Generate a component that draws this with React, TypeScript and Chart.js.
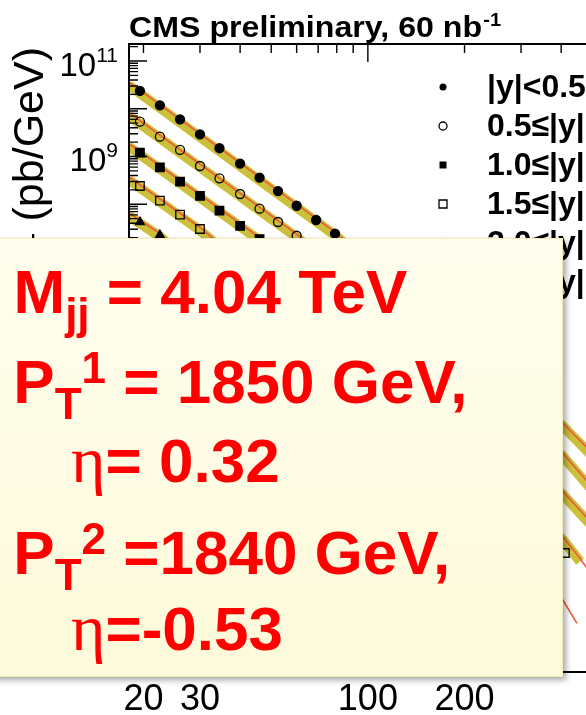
import React, { useEffect, useRef } from 'react';
import { Chart, registerables } from 'chart.js';

Chart.register(...registerables);

// ---- axis ranges ----
const X_MIN = 18.03;
const X_MAX = 610;
const Y_MIN = 0.016;
const Y_MAX = 2.27e11;

// ---- labels ----
const titleMain = 'CMS preliminary, 60 nb';
const titleSup = '-1';
const xTickLabels = [20, 30, 100, 200];
const yTickExps = [11, 9, 7, 5, 3, 1];
const binLabels = ['|y|<0.5', '0.5≤|y|<1.0', '1.0≤|y|<1.5', '1.5≤|y|<2.0', '2.0≤|y|<2.5', '2.5≤|y|<3.0'];
const markerStyles = ['circle', 'circle', 'rect', 'rect', 'triangle', 'triangle'];
const markerFilled = [true, false, true, false, true, false];

// ---- measured points (pT in GeV, cross section pb/GeV) ----
const ptX1 = [19.5, 22.5, 26, 30, 34.5, 40, 46, 52.5, 60, 69, 79];
const ptY1 = [2.36e10, 1.18e10, 6.0e9, 2.92e9, 1.49e9, 7.07e8, 3.6e8, 1.89e8, 9.3e7, 4.68e7, 2.42e7];
const ptX2 = [19.5, 22.5, 26, 30, 34.5, 40, 46, 52.5, 60];
const ptY2 = [5.36e9, 2.6e9, 1.37e9, 6.32e8, 3.49e8, 1.64e8, 8.07e7, 4.25e7, 2.19e7];
const ptX3 = [19.5, 22.5, 26, 30, 34.5, 40, 46];
const ptY3 = [1.2e9, 5.94e8, 2.97e8, 1.49e8, 7.33e7, 3.51e7, 1.87e7];
const ptX4 = [19.5, 22.5, 26, 30, 411];
const ptY4 = [2.41e8, 1.19e8, 6.04e7, 3.03e7, 4.97];
const ptX5 = [19.5, 22.5];
const ptY5 = [4.21e7, 2.27e7];
const ptX6 = [19.5, 22.5];
const ptY6 = [8.5e6, 4.4e6];

// ---- theory curves (anchor points) ----
const fitX1 = [18, 79, 405, 478, 610];
const fitY1 = [3.6e10, 2.6e7, 2590, 838, 160];
const fitX2 = [18, 60, 405, 478, 610];
const fitY2 = [8.3e9, 2.36e7, 608, 168, 25.6];
const fitX3 = [18, 46, 405, 478, 610];
const fitY3 = [1.87e9, 2.01e7, 95.5, 28.6, 4.97];
const fitX4 = [18, 30, 405, 458, 478, 610];
const fitY4 = [3.76e8, 3.26e7, 10.9, 3.8, 2.57, 0.309];
const fitX5 = [18, 22.5, 300, 405, 448];
const fitY5 = [6.56e7, 2.44e7, 3.2, 0.515, 0.1675];
const fitX6 = [18, 22.5, 300];
const fitY6 = [1.3e7, 5.0e6, 0.005];
const bandEnd = [610, 610, 610, 458, 300, 300];

// ---- annotation box text ----
const boxLine1 = ['M', 'jj', ' = 4.04 TeV'];
const boxLine2 = ['P', 'T', '1', ' = 1850 GeV,'];
const boxLine3 = ['η', '= 0.32'];
const boxLine4 = ['P', 'T', '2', ' =1840 GeV,'];
const boxLine5 = ['η', '=-0.53'];

const ptXs = [ptX1, ptX2, ptX3, ptX4, ptX5, ptX6];
const ptYs = [ptY1, ptY2, ptY3, ptY4, ptY5, ptY6];
const fitXs = [fitX1, fitX2, fitX3, fitX4, fitX5, fitX6];
const fitYs = [fitY1, fitY2, fitY3, fitY4, fitY5, fitY6];

const BAND = '#CCC03A';
const RED_LINE = '#EE5A3C';
const SANS = '"Liberation Sans", Arial, Helvetica, sans-serif';
const SERIF = '"Liberation Serif", "Times New Roman", serif';

function drawMarker(ctx: CanvasRenderingContext2D, style: string, filled: boolean, x: number, y: number, r: number) {
  ctx.beginPath();
  if (style === 'circle') ctx.arc(x, y, r, 0, Math.PI * 2);
  else if (style === 'rect') ctx.rect(x - r, y - r, 2 * r, 2 * r);
  else {
    ctx.moveTo(x, y - r * 1.15);
    ctx.lineTo(x + r, y + r * 0.7);
    ctx.lineTo(x - r, y + r * 0.7);
    ctx.closePath();
  }
  if (filled) {
    ctx.fillStyle = '#000';
    ctx.fill();
  } else {
    ctx.lineWidth = 1.3;
    ctx.strokeStyle = '#000';
    ctx.stroke();
  }
}

type Seg = { t: string; f: string; dy?: number };
function drawSegs(ctx: CanvasRenderingContext2D, x: number, y: number, segs: Seg[]) {
  let cx = x;
  for (const s of segs) {
    ctx.font = s.f;
    ctx.fillText(s.t, cx, y + (s.dy || 0));
    cx += ctx.measureText(s.t).width;
  }
}

const bandShift = {
  id: 'bandShift',
  beforeDatasetDraw(chart: any, args: any) {
    if (chart.data.datasets[args.index].isBand) {
      chart.ctx.save();
      chart.ctx.translate(0, 3);
    }
  },
  afterDatasetDraw(chart: any, args: any) {
    if (chart.data.datasets[args.index].isBand) chart.ctx.restore();
  },
};

const axesPlugin = {
  id: 'rootAxes',
  afterDatasetsDraw(chart: any) {
    const ctx: CanvasRenderingContext2D = chart.ctx;
    const { left, right, top, bottom } = chart.chartArea;
    const xs = chart.scales.x;
    const ys = chart.scales.y;
    ctx.save();
    ctx.strokeStyle = '#000';
    ctx.lineWidth = 2;
    ctx.strokeRect(left, top, right - left, bottom - top);
    ctx.lineWidth = 1.4;
    ctx.beginPath();
    for (let e = -2; e <= 11; e++) {
      for (let k = 1; k <= 9; k++) {
        const v = k * Math.pow(10, e);
        if (v < Y_MIN || v > Y_MAX) continue;
        const py = ys.getPixelForValue(v);
        const len = k === 1 ? 18 : 9;
        ctx.moveTo(left, py);
        ctx.lineTo(left + len, py);
        ctx.moveTo(right, py);
        ctx.lineTo(right - len, py);
      }
    }
    for (let e = 1; e <= 2; e++) {
      for (let k = 1; k <= 9; k++) {
        const v = k * Math.pow(10, e);
        if (v < X_MIN || v > X_MAX) continue;
        const px = xs.getPixelForValue(v);
        const len = k === 1 ? 18 : 9;
        ctx.moveTo(px, top);
        ctx.lineTo(px, top + len);
        ctx.moveTo(px, bottom);
        ctx.lineTo(px, bottom - len);
      }
    }
    ctx.stroke();
    ctx.restore();
  },
  afterDraw(chart: any) {
    const ctx: CanvasRenderingContext2D = chart.ctx;
    const xs = chart.scales.x;
    const ys = chart.scales.y;
    ctx.save();
    ctx.fillStyle = '#000';

    // title
    ctx.textBaseline = 'alphabetic';
    ctx.textAlign = 'left';
    ctx.font = `bold 29px ${SANS}`;
    const wMain = ctx.measureText(titleMain).width;
    ctx.font = `bold 18px ${SANS}`;
    const wSup = ctx.measureText(titleSup).width;
    const sx = 372 / (wMain + wSup + 1);
    ctx.save();
    ctx.translate(129, 37);
    ctx.scale(sx, 1);
    ctx.font = `bold 29px ${SANS}`;
    ctx.fillText(titleMain, 0, 0);
    ctx.font = `bold 18px ${SANS}`;
    ctx.fillText(titleSup, wMain + 1, -11);
    ctx.restore();

    // x tick labels
    ctx.font = `36px ${SANS}`;
    ctx.textAlign = 'center';
    for (const v of xTickLabels) {
      ctx.fillText(String(v), xs.getPixelForValue(v), 710);
    }

    // y tick labels 10^n
    ctx.textAlign = 'right';
    for (const e of yTickExps) {
      const py = ys.getPixelForValue(Math.pow(10, e));
      ctx.font = `21px ${SANS}`;
      const ew = ctx.measureText(String(e)).width;
      ctx.fillText(String(e), 118, py + 1);
      ctx.font = `33px ${SANS}`;
      ctx.fillText('10', 118 - ew, py + 15);
    }

    // y axis title (rotated)
    ctx.save();
    ctx.translate(43, 47);
    ctx.rotate(-Math.PI / 2);
    ctx.textAlign = 'left';
    const yParts: Seg[] = [
      { t: 'd²σ/dydp', f: `43px ${SANS}` },
      { t: 'T', f: `30px ${SANS}`, dy: 9 },
      { t: ' (pb/GeV)', f: `43px ${SANS}` },
    ];
    let tot = 0;
    for (const p of yParts) {
      ctx.font = p.f;
      tot += ctx.measureText(p.t).width;
    }
    drawSegs(ctx, -tot, 0, yParts);
    ctx.restore();

    // legend
    ctx.textAlign = 'left';
    ctx.textBaseline = 'middle';
    ctx.font = `bold 32px ${SANS}`;
    binLabels.forEach((lab, i) => {
      const y = 87 + 39 * i;
      const st = markerStyles[i];
      const filled = markerFilled[i];
      const r = st === 'triangle' ? 4.5 : filled ? 3.5 : 4;
      drawMarker(ctx, st, filled, 443, y, r);
      ctx.fillStyle = '#000';
      ctx.font = `bold 32px ${SANS}`;
      ctx.fillText(lab, 487, y + 1);
    });

    // annotation box
    ctx.textBaseline = 'alphabetic';
    ctx.save();
    ctx.shadowColor = 'rgba(0,0,0,0.35)';
    ctx.shadowBlur = 6;
    ctx.shadowOffsetX = 3;
    ctx.shadowOffsetY = 3;
    const bx0 = -10, by0 = 238, bx1 = 563, by1 = 677;
    const grad = ctx.createLinearGradient(0, by0, 0, by1);
    grad.addColorStop(0, '#FFFEEE');
    grad.addColorStop(1, '#FDFADA');
    ctx.fillStyle = grad;
    ctx.fillRect(bx0, by0, bx1 - bx0, by1 - by0);
    ctx.restore();
    ctx.strokeStyle = '#F2ECB8';
    ctx.lineWidth = 1;
    ctx.strokeRect(bx0 + 0.5, by0 + 0.5, bx1 - bx0 - 1, by1 - by0 - 1);

    ctx.fillStyle = '#FF0000';
    const F = `bold 62px ${SANS}`;
    const S = `bold 44px ${SANS}`;
    const E = `66px ${SERIF}`;
    drawSegs(ctx, 13.5, 313, [
      { t: boxLine1[0], f: F },
      { t: boxLine1[1], f: S, dy: 16 },
      { t: boxLine1[2], f: F },
    ]);
    drawSegs(ctx, 13.3, 403, [
      { t: boxLine2[0], f: F },
      { t: boxLine2[1], f: S, dy: 16 },
      { t: boxLine2[2], f: S, dy: -20 },
      { t: boxLine2[3], f: F },
    ]);
    drawSegs(ctx, 71, 482, [
      { t: boxLine3[0], f: E },
      { t: boxLine3[1], f: F },
    ]);
    drawSegs(ctx, 13.3, 574, [
      { t: boxLine4[0], f: F },
      { t: boxLine4[1], f: S, dy: 16 },
      { t: boxLine4[2], f: S, dy: -20 },
      { t: boxLine4[3], f: F },
    ]);
    drawSegs(ctx, 71, 650, [
      { t: boxLine5[0], f: E },
      { t: boxLine5[1], f: F },
    ]);
    ctx.restore();
  },
};

export default function App() {
  const ref = useRef<HTMLCanvasElement | null>(null);

  useEffect(() => {
    if (!ref.current) return;
    const datasets: any[] = [];
    for (let i = 0; i < 6; i++) {
      const fit = fitXs[i].map((x, j) => ({ x, y: fitYs[i][j] }));
      datasets.push({
        label: 'band ' + binLabels[i],
        isBand: true,
        data: fit.filter((p) => p.x <= bandEnd[i]),
        showLine: true,
        borderColor: BAND,
        backgroundColor: BAND,
        borderWidth: 10,
        borderCapStyle: 'butt',
        pointRadius: 0,
        tension: 0,
        order: 3,
      });
      datasets.push({
        label: 'theory ' + binLabels[i],
        data: fit,
        showLine: true,
        borderColor: RED_LINE,
        backgroundColor: RED_LINE,
        borderWidth: 1.6,
        pointRadius: 0,
        tension: 0,
        order: 2,
      });
      datasets.push({
        label: binLabels[i],
        data: ptXs[i].map((x, j) => ({ x, y: ptYs[i][j] })),
        showLine: false,
        pointStyle: markerStyles[i],
        pointRadius: markerStyles[i] === 'circle' ? 4.5 : markerStyles[i] === 'rect' ? 6 : 5,
        backgroundColor: markerFilled[i] ? '#000' : 'rgba(0,0,0,0)',
        borderColor: '#000',
        borderWidth: 1.3,
        order: 1,
      });
    }
    const chart = new Chart(ref.current, {
      type: 'scatter',
      data: { datasets },
      options: {
        animation: false,
        responsive: false,
        events: [],
        layout: { padding: { left: 129, top: 44, right: 20, bottom: 43 } },
        plugins: { legend: { display: false }, tooltip: { enabled: false } },
        scales: {
          x: { type: 'logarithmic', min: X_MIN, max: X_MAX, display: false },
          y: { type: 'logarithmic', min: Y_MIN, max: Y_MAX, display: false },
        },
      } as any,
      plugins: [bandShift, axesPlugin],
    });
    return () => chart.destroy();
  }, []);

  return (
    <div style={{ position: 'fixed', left: 0, top: 0, width: 586, height: 715, overflow: 'hidden', background: '#fff' }}>
      <canvas ref={ref} width={640} height={715} style={{ display: 'block', width: 640, height: 715 }} />
    </div>
  );
}
